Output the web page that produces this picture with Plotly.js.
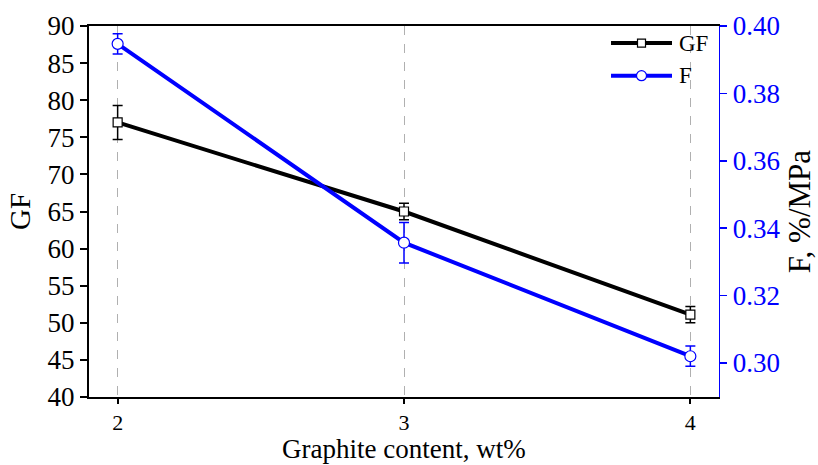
<!DOCTYPE html>
<html>
<head>
<meta charset="utf-8">
<script src="https://cdn.plot.ly/plotly-3.0.1.min.js"></script>
<style>html,body{margin:0;padding:0;background:#fff;}#chart{width:818px;height:465px;}</style>
</head>
<body>
<div id="chart"></div>
<script>
const graphite = [2, 3, 4];
const gfValues = [77.0, 65.0, 51.1];
const gfErrors = [2.3, 1.1, 1.1];
const fValues = [0.3947, 0.3357, 0.302];
const fErrors = [0.003, 0.006, 0.003];
const leftTicks = [40, 45, 50, 55, 60, 65, 70, 75, 80, 85, 90];
const rightTicks = [0.30, 0.32, 0.34, 0.36, 0.38, 0.40];
const seriesNames = ['GF', 'F'];
const xTitle = 'Graphite content, wt%';

const font = 'Liberation Serif, Times New Roman, serif';
const blue = '#0000ff';
const traces = [
  {
    x: graphite, y: gfValues, name: seriesNames[0], type: 'scatter', mode: 'lines+markers',
    line: {color: '#000', width: 4},
    marker: {symbol: 'square', size: 9, color: '#fff', line: {color: '#000', width: 1.2}},
    error_y: {type: 'data', array: gfErrors, visible: true, color: '#000', thickness: 1.5, width: 5},
    yaxis: 'y', showlegend: false
  },
  {
    x: graphite, y: fValues, name: seriesNames[1], type: 'scatter', mode: 'lines+markers',
    line: {color: blue, width: 4},
    marker: {symbol: 'circle', size: 11, color: '#fff', line: {color: blue, width: 1.2}},
    error_y: {type: 'data', array: fErrors, visible: true, color: blue, thickness: 1.5, width: 5},
    yaxis: 'y2', showlegend: false
  }
];

// custom legend (paper coordinates) to get long sample lines
const legY = [0.954, 0.866];
const legColors = ['#000', blue];
const shapes = [];
const annotations = [];
legY.forEach((yy, i) => {
  shapes.push({type: 'line', xref: 'paper', yref: 'paper', x0: 0.8286, x1: 0.9254, y0: yy, y1: yy,
               line: {color: legColors[i], width: 4}});
  shapes.push({type: i === 0 ? 'rect' : 'circle', xref: 'paper', yref: 'paper',
               xsizemode: 'pixel', ysizemode: 'pixel', xanchor: 0.877, yanchor: yy,
               x0: i === 0 ? -4 : -5, x1: i === 0 ? 4 : 5, y0: i === 0 ? -4 : -5, y1: i === 0 ? 4 : 5,
               fillcolor: '#fff', line: {color: legColors[i], width: 1.2}});
  annotations.push({xref: 'paper', yref: 'paper', x: 0.933, y: yy, xanchor: 'left', yanchor: 'middle',
                    text: seriesNames[i], showarrow: false, font: {family: font, size: 23, color: '#000'}});
});
// x-axis title placed at the bottom of the figure
annotations.push({xref: 'paper', yref: 'paper', x: 0.5, y: -0.1833, xanchor: 'center', yanchor: 'bottom',
                  text: xTitle, showarrow: false, borderpad: 0,
                  font: {family: font, size: 27, color: '#000'}});

const layout = {
  width: 818, height: 465,
  margin: {l: 89, r: 99, t: 26, b: 68},
  paper_bgcolor: '#fff', plot_bgcolor: '#fff',
  font: {family: font, color: '#000', size: 27},
  showlegend: false,
  shapes: shapes,
  annotations: annotations,
  xaxis: {
    range: [1.9, 4.1], tickvals: graphite, ticktext: graphite.map(String),
    showline: true, linecolor: '#000', linewidth: 1.6, mirror: true,
    ticks: 'outside', ticklen: 5, tickwidth: 2, tickcolor: '#000',
    showgrid: true, gridcolor: '#b0b0b0', griddash: 'dash', gridwidth: 1,
    zeroline: false,
    tickfont: {family: font, size: 22, color: '#000'}
  },
  yaxis: {
    range: [40, 90], tickvals: leftTicks, ticktext: leftTicks.map(String),
    showline: true, linecolor: '#000', linewidth: 2,
    ticks: 'outside', ticklen: 7, tickwidth: 2, tickcolor: '#000',
    showgrid: false, zeroline: false,
    tickfont: {family: font, size: 27, color: '#000'},
    title: {text: 'GF', font: {family: font, size: 29, color: '#000'}, standoff: 8}
  },
  yaxis2: {
    overlaying: 'y', side: 'right',
    range: [0.2899, 0.40], tickvals: rightTicks, ticktext: rightTicks.map(v => v.toFixed(2)),
    showline: true, linecolor: blue, linewidth: 1.3,
    ticks: 'outside', ticklen: 7, tickwidth: 1.5, tickcolor: blue,
    showgrid: false, zeroline: false,
    tickfont: {family: font, size: 27, color: blue},
    title: {text: 'F, %/MPa', font: {family: font, size: 31, color: '#000'}, standoff: 8}
  }
};

Plotly.newPlot('chart', traces, layout, {displayModeBar: false, staticPlot: true});
</script>
</body>
</html>
